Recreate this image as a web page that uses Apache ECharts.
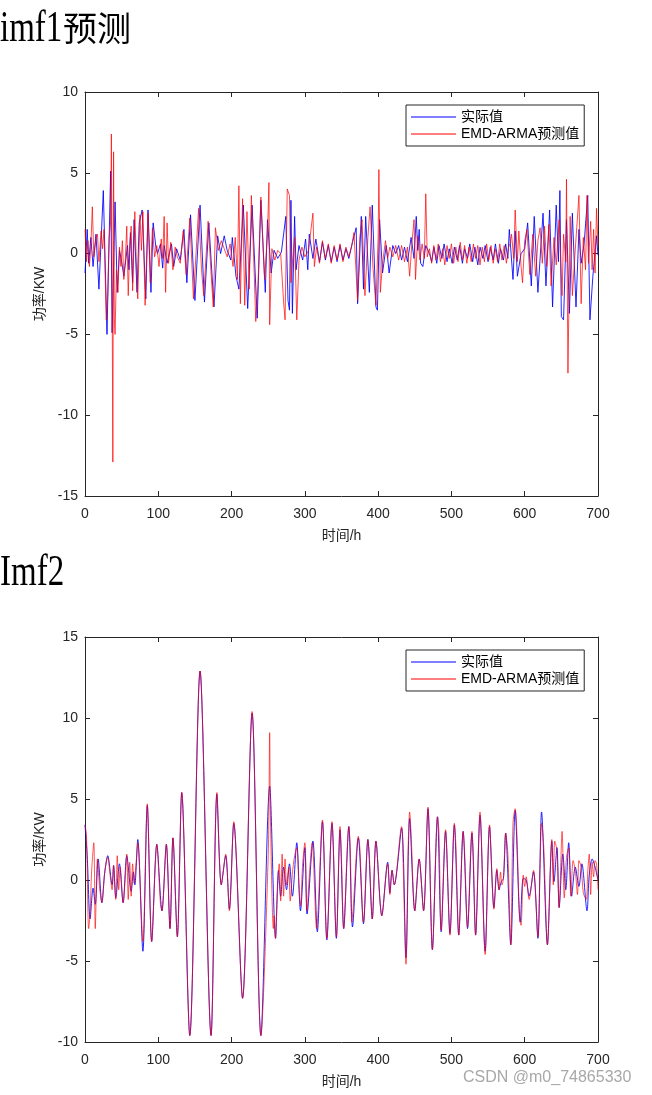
<!DOCTYPE html>
<html>
<head>
<meta charset="utf-8">
<script src="https://cdn.jsdelivr.net/npm/echarts@6/dist/echarts.min.js"></script>
<style>
  html, body { margin: 0; padding: 0; background: #fff; }
  #wrap { position: relative; width: 652px; height: 1095px; overflow: hidden; background: #fff; }
  #chart { position: absolute; left: 0; top: 0; width: 652px; height: 1095px; }
  .lat { position: absolute; font-family: "Liberation Serif", "DejaVu Serif", serif; font-size: 44px; line-height: 44px; color: #000; transform: scaleX(0.75); transform-origin: 0 0; white-space: nowrap; }
  .cjk { position: absolute; font-family: "Noto Sans CJK SC", sans-serif; font-size: 34px; line-height: 34px; color: #000; white-space: nowrap; }
  .wm { position: absolute; font-family: "Liberation Sans", Arial, sans-serif; font-size: 16px; line-height: 16px; color: #a8a8a8; white-space: nowrap; text-shadow: 0 0 2px #fff; }
</style>
</head>
<body>
<div id="wrap">
  <div id="chart"></div>
  <div class="lat" style="left:0px;top:5px;">imf1</div>
  <div class="cjk" style="left:63px;top:10px;">预测</div>
  <div class="lat" style="left:0px;top:549px;">Imf2</div>
  <div class="wm" style="left:463px;top:1069px;">CSDN @m0_74865330</div>
</div>
<script>
// ---------- tick labels ----------
const xTicks = [0, 100, 200, 300, 400, 500, 600, 700];
const imf1YTicks = [-15, -10, -5, 0, 5, 10];
const imf2YTicks = [-10, -5, 0, 5, 10, 15];

// ---------- series names ----------
const seriesNames = ['实际值', 'EMD-ARMA预测值'];

// ---------- imf1: actual (blue) [hour, kW] ----------
const imf1Actual = [
[0,-1.2],[1,-1.2],[3,1.5],[5,-0.6],[8,1.0],[11,-0.8],[15,1.2],[19,-2.2],[25,3.9],[30,-5.0],[35,5.1],[37,-4.9],[41,3.2],[44,-2.4],[47,0.2],[50,-0.5],[53,-1.4],[58,0.5],[60,-1.0],[62,1.3],[65,-1.8],[67,2.1],[71,-2.4],[74,1.9],[78,2.7],[83,-2.8],[86,2.7],[90,-2.4],[93,1.9],[97,0.3],[99,0.0],[103,0.6],[106,-0.9],[108,0.5],[112,-0.6],[118,0.6],[121,-0.8],[125,0.3],[130,-0.4],[135,1.5],[139,-1.8],[144,2.4],[150,-2.9],[157,3.0],[163,-3.0],[169,1.9],[176,-3.3],[181,1.1],[185,0.0],[190,1.1],[194,0.2],[199,-0.4],[201,1.0],[206,-1.4],[210,-2.2],[216,3.0],[222,-3.4],[228,3.0],[235,-4.0],[240,3.3],[246,-2.4],[249,2.1],[254,-1.2],[258,0.2],[263,-0.3],[268,0.1],[274,2.3],[277,-2.9],[279,-3.5],[281,3.3],[283,-3.7],[286,2.3],[288,-1.0],[292,0.5],[297,-0.4],[301,0.9],[304,-1.0],[306,1.2],[311,-0.3],[315,0.9],[320,-0.5],[324,0.7],[328,-0.4],[332,0.5],[336,-0.5],[340,0.4],[344,-0.5],[348,0.5],[352,-0.4],[356,0.3],[360,-0.3],[365,0.7],[370,1.6],[372,-3.1],[377,2.3],[380,-2.2],[383,2.3],[388,-2.4],[392,3.0],[397,-3.3],[399,-3.5],[402,2.1],[406,-1.2],[411,0.5],[413,-0.3],[415,-1.2],[420,0.5],[424,0.0],[428,0.5],[432,-0.4],[436,0.4],[440,-0.5],[445,1.0],[449,-0.3],[452,2.3],[454,0.2],[456,1.5],[458,-0.6],[461,-0.8],[465,0.5],[470,0.0],
[473,-0.5],[476,0.4],[480,-0.6],[483,0.5],[487,-0.3],[490,0.6],[494,-0.5],[497,0.3],[501,-0.6],[504,0.4],[508,-0.4],[511,0.5],[515,-0.6],[518,0.3],[522,-0.3],[525,0.6],[529,-0.5],[532,0.4],[536,-0.7],[539,0.4],[543,-0.3],[546,0.5],[550,-0.5],[553,0.4],[557,-0.4],[560,0.6],[564,-0.6],[567,0.3],[571,-0.4],[574,0.6],[577,-0.3],
[579,1.5],[584,-1.6],[587,1.4],[590,-1.4],[595,0.0],[600,0.3],[604,1.9],[609,-2.0],[613,2.3],[618,-2.4],[625,2.5],[629,-2.0],[634,2.7],[638,-3.3],[643,3.0],[646,-0.5],[648,3.9],[650,-3.9],[653,-4.1],[657,2.1],[661,-3.7],[665,2.5],[670,-3.3],[674,1.5],[677,-0.6],[681,0.6],[686,3.6],[689,-4.1],[693,-1.4],[698,1.1],[700,-0.1]
];

// ---------- imf1: EMD-ARMA prediction (red) ----------
const imf1Pred = [
[0,1.5],[2,-0.5],[4,0.8],[6,-0.8],[8,0.5],[10,2.9],[12,-0.2],[15,1.0],[17,1.2],[19,-0.5],[22,1.4],[24,0.3],[26,1.5],[29,-4.1],[31,-2.5],[33,1.0],[35,2.0],[36,7.4],[37,-2.0],[38,-12.9],[39,6.3],[40,-4.0],[41,-5.0],[43,-1.0],[45,-2.4],[47,0.4],[49,-0.8],[51,0.8],[53,-1.6],[55,-0.4],[57,1.7],[59,-2.6],[61,0.4],[63,1.7],[65,-2.3],[68,2.6],[70,-0.5],[72,-2.8],[75,2.4],[77,0.2],[79,2.6],[82,-3.2],[86,2.5],[89,-1.8],[92,1.6],[95,-0.2],[98,0.5],[101,-0.8],[104,0.9],[106,-0.3],[108,2.3],[110,-2.4],[112,1.9],[114,-0.6],[117,0.7],[120,-1.0],[123,0.4],[126,-0.2],[130,-0.6],[134,1.4],[138,-1.3],[143,2.2],[148,-2.8],[155,2.8],[159,-1.0],[162,-2.6],[168,2.0],[172,-1.2],[175,-3.3],[178,1.6],[182,0.2],[186,0.8],[190,0.3],[194,-0.2],[198,0.6],[202,-0.8],[205,1.0],[208,-1.6],[210,4.2],[212,-3.1],[215,3.4],[218,-3.2],[221,2.6],[224,-2.2],[227,3.6],[230,0.0],[233,-4.2],[236,-2.0],[240,3.5],[245,-1.6],[249,1.2],[251,4.4],[252,-4.4],[255,0.3],[259,-0.4],[263,0.2],[267,0.0],[271,-3.0],[273,-4.1],[276,4.0],[279,3.6],[281,-1.8],[283,-0.6],[286,1.0],[289,-4.1],[292,-0.4],[296,0.4],[300,-0.2],[305,0.2],[311,2.5],[313,-0.8],[316,0.4],[320,-0.6],[324,0.8],[328,-0.3],[332,0.6],[336,-0.6],[340,0.5],[344,-0.4],[348,0.6],[352,-0.5],[356,0.4],[360,-0.2],[364,0.5],[367,1.3],[372,-2.9],[375,1.0],[378,2.1],[382,-2.6],[386,1.0],[389,2.9],[393,-0.9],[397,-3.2],[400,1.0],[401,5.2],[403,-2.4],[406,-0.6],[410,0.8],[413,-0.3],[416,0.4],[420,-0.2],[424,0.5],[428,-0.4],[432,0.5],[436,-0.5],[440,0.4],[443,-1.4],[446,0.6],[449,2.1],[451,-1.6],[454,1.1],[457,-0.4],[460,0.6],[463,-0.3],[465,3.7],[467,-0.2],
[470,0.3],[473,-0.6],[476,0.5],[479,-0.4],[482,0.6],[485,-0.5],[488,0.3],[491,-0.7],[494,0.5],[497,-0.3],[500,0.6],[503,-0.6],[506,0.4],[509,-0.5],[512,0.7],[515,-0.4],[518,0.5],[521,-0.6],[524,0.4],[527,-0.5],[530,0.6],[533,-0.3],[536,0.5],[539,-0.7],[542,0.4],[545,-0.5],[548,0.6],[551,-0.4],[554,0.5],[557,-0.6],[560,0.3],[563,-0.5],[566,0.6],[569,-0.4],[572,0.5],[575,-0.6],[578,0.4],
[580,0.6],[582,1.2],[585,-0.3],[587,2.7],[590,-0.5],[592,1.4],[595,-0.8],[597,-1.8],[600,0.8],[603,1.5],[607,-1.3],[611,1.2],[615,-1.4],[618,0.8],[621,1.6],[624,-0.6],[627,1.7],[630,-0.8],[633,1.8],[636,-2.0],[640,1.0],[643,-0.7],[647,2.1],[651,-2.6],[653,1.2],[656,-0.5],[657,4.6],[659,-7.4],[662,2.3],[665,-2.6],[668,-0.4],[671,1.6],[674,3.6],[677,-3.1],[680,1.0],[683,-1.0],[685,3.6],[687,-0.6],[690,2.0],[692,-1.0],[694,1.5],[696,-1.2],[698,2.8],[700,0.5]
];

// ---------- imf2: actual (blue) ----------
const imf2Actual = [
[0,3.4],[3,1.5],[7,-2.4],[11,-0.5],[14,-1.5],[18,1.3],[23,-1.4],[27,0.5],[31,1.5],[37,-0.3],[39,0.9],[42,-1.1],[47,1.0],[52,-1.4],[57,1.5],[63,-0.7],[66,0.5],[68,-0.3],[72,2.5],[79,-4.4],[85,4.6],[91,-3.8],[98,2.2],[105,-1.9],[111,2.2],[116,-3.0],[120,2.6],[126,-3.5],[132,5.4],[143,-9.6],[157,12.9],[172,-9.6],[180,5.3],[186,-0.3],[192,1.5],[197,-1.8],[203,3.5],[215,-7.3],[228,10.3],[240,-9.6],[252,5.8],[260,-3.6],[264,0.6],[267,-1.0],[271,0.8],[275,-0.6],[279,1.0],[283,-1.0],[289,2.3],[294,-1.9],[300,2.0],[303,-2.1],[311,2.4],[317,-3.2],[324,3.6],[330,-3.7],[337,3.5],[343,-3.6],[348,3.1],[353,-3.0],[360,3.3],[365,-2.9],[373,2.6],[380,-2.7],[386,2.5],[392,-2.4],[397,2.4],[405,-2.2],[413,1.1],[416,-0.8],[419,0.6],[422,-0.3],[432,3.2],[438,-4.8],[443,3.8],[450,-1.9],[456,1.3],[462,-1.9],[468,4.4],[474,-4.3],[481,3.9],[486,-3.2],[492,3.0],[498,-3.3],[504,3.4],[510,-3.4],[516,3.0],[522,-3.0],[528,2.9],[533,-3.4],[539,4.0],[546,-4.4],[552,3.3],[558,-1.7],[562,0.6],[565,-0.6],[568,-0.1],[571,0.1],[574,2.9],[581,-4.0],[587,4.3],[594,-2.6],[598,0.1],[602,0.0],[606,-1.0],[612,0.5],[618,-3.6],[623,4.2],[631,-4.0],[637,2.4],[640,-0.1],[644,2.0],[647,-1.7],[652,1.6],[656,-0.6],[660,2.3],[664,-1.0],[669,0.8],[674,-0.4],[678,1.0],[685,-1.9],[688,0.3],[692,1.3],[696,0.8],[700,0.0]
];

// ---------- imf2: EMD-ARMA prediction (red) ----------
const imf2Pred = [
[0,3.4],[2,2.8],[5,-3.0],[7,-2.0],[9,0.5],[12,2.3],[14,-3.0],[17,1.3],[20,-0.5],[23,-1.4],[27,0.5],[31,1.4],[34,0.4],[37,-0.6],[39,0.9],[42,-1.2],[44,1.5],[46,-0.6],[48,0.8],[52,-1.4],[55,0.2],[57,1.6],[59,-1.2],[61,1.1],[63,-1.0],[65,1.0],[67,-0.2],[70,1.2],[72,2.3],[79,-3.8],[85,4.7],[91,-3.8],[98,2.2],[103,-1.5],[105,-1.9],[111,2.2],[116,-3.0],[120,2.6],[126,-3.5],[132,5.4],[143,-9.6],[157,12.9],[172,-9.6],[180,5.4],[186,-0.3],[192,1.6],[197,-1.9],[203,3.6],[215,-7.3],[228,10.4],[240,-9.6],[250,1.5],[252,9.1],[253,4.0],[257,-3.0],[258,-2.2],[260,-3.6],[261,-2.5],[263,-0.3],[265,1.0],[267,-1.3],[269,1.6],[271,-1.0],[273,1.3],[275,-0.3],[278,0.8],[280,-1.3],[283,0.4],[286,1.5],[289,2.0],[292,-0.5],[294,-1.6],[297,1.0],[300,2.3],[303,-1.9],[306,0.2],[310,2.3],[316,-3.0],[324,3.7],[330,-3.6],[337,3.6],[343,-3.5],[348,3.3],[350,1.3],[353,-3.0],[360,3.3],[362,2.0],[364,-2.6],[366,-1.7],[373,2.7],[375,2.0],[380,-2.6],[386,2.5],[388,1.5],[392,-2.4],[397,2.4],[405,-2.2],[413,1.0],[416,-0.9],[419,0.6],[422,-0.3],[432,3.3],[434,1.2],[438,-5.2],[441,2.0],[443,4.2],[445,2.8],[450,-1.9],[456,1.3],[462,-1.9],[468,4.5],[474,-4.3],[481,3.9],[483,2.9],[486,-3.1],[492,3.1],[498,-3.4],[504,3.5],[506,2.2],[510,-3.4],[516,3.0],[518,1.7],[522,-2.9],[528,3.0],[530,1.3],[533,-3.4],[539,4.2],[546,-4.6],[552,3.4],[558,-1.8],[562,0.7],[565,-0.6],[567,0.5],[569,-0.3],[571,0.1],[574,2.9],[577,1.6],[581,-4.0],[584,3.5],[587,4.4],[589,3.2],[593,-2.4],[595,-2.8],[598,0.3],[600,-0.4],[602,0.2],[606,-1.2],[612,0.6],[618,-3.5],[621,1.0],[623,3.5],[626,2.0],[631,-4.0],[637,2.5],[639,-0.3],[641,2.4],[644,1.8],[647,-1.7],[651,3.0],[654,-1.1],[657,1.4],[660,2.0],[663,-1.0],[666,1.2],[669,0.6],[672,-0.9],[674,1.2],[677,0.8],[680,-0.8],[684,-1.2],[686,0.5],[688,1.6],[690,-0.9],[692,1.1],[694,0.2],[696,1.2],[698,1.0],[700,-0.6]
];

// ---------- build chart ----------
const axisColor = '#262626';
const tickFont = '"Liberation Sans Narrow", "Liberation Sans", Arial, sans-serif';
const labelFont = '"Liberation Sans", "Noto Sans CJK SC", sans-serif';

function rangeOf(ticks) {
  return { min: ticks[0], max: ticks[ticks.length - 1], interval: ticks[1] - ticks[0] };
}

function xAxes(gridIndex) {
  const r = rangeOf(xTicks);
  const base = {
    type: 'value', gridIndex, min: r.min, max: r.max, interval: r.interval,
    splitLine: { show: false },
    axisLine: { show: true, onZero: false, lineStyle: { color: axisColor, width: 1 } },
    axisTick: { show: true, inside: true, length: 5, lineStyle: { color: axisColor } }
  };
  return [
    Object.assign({}, base, {
      position: 'bottom',
      name: '时间/h', nameLocation: 'middle', nameGap: 33,
      nameTextStyle: { fontFamily: labelFont, fontSize: 14, color: axisColor },
      axisLabel: { show: true, margin: 11, fontFamily: tickFont, fontSize: 14, color: axisColor }
    }),
    Object.assign({}, base, { position: 'top', axisLabel: { show: false } })
  ];
}

function yAxes(gridIndex, ticks) {
  const r = rangeOf(ticks);
  const base = {
    type: 'value', gridIndex, min: r.min, max: r.max, interval: r.interval,
    splitLine: { show: false },
    axisLine: { show: true, onZero: false, lineStyle: { color: axisColor, width: 1 } },
    axisTick: { show: true, inside: true, length: 5, lineStyle: { color: axisColor } }
  };
  return [
    Object.assign({}, base, {
      position: 'left',
      name: '功率/KW', nameLocation: 'middle', nameGap: 33, nameRotate: 90,
      nameTextStyle: { fontFamily: labelFont, fontSize: 14, color: axisColor },
      axisLabel: { show: true, margin: 7, fontFamily: tickFont, fontSize: 14, color: axisColor }
    }),
    Object.assign({}, base, { position: 'right', axisLabel: { show: false } })
  ];
}

function lineSeries(name, data, idx, color, opacity, smooth) {
  return {
    name, type: 'line', data,
    xAxisIndex: idx, yAxisIndex: idx,
    showSymbol: false, symbol: 'none', smooth: smooth,
    lineStyle: { color, width: 1, opacity },
    itemStyle: { color },
    clip: true, animation: false
  };
}

function legend(top) {
  return {
    left: 406, top, orient: 'vertical',
    data: seriesNames,
    icon: 'rect', itemWidth: 45, itemHeight: 1, itemGap: 3,
    padding: [5, 5, 5, 5],
    backgroundColor: '#fff', borderColor: axisColor, borderWidth: 1, borderRadius: 0,
    selectedMode: false,
    textStyle: { fontFamily: labelFont, fontSize: 14, color: '#000', padding: [0, 0, 0, 0] }
  };
}

const chart = echarts.init(document.getElementById('chart'), null, { renderer: 'canvas' });
chart.setOption({
  backgroundColor: '#fff',
  animation: false,
  grid: [
    { left: 85, top: 92, width: 513, height: 404 },
    { left: 85, top: 637, width: 513, height: 405 }
  ],
  xAxis: [].concat(xAxes(0), xAxes(1)),
  yAxis: [].concat(yAxes(0, imf1YTicks), yAxes(1, imf2YTicks)),
  legend: [legend(105), legend(650)],
  series: [
    lineSeries(seriesNames[0], imf1Actual, 0, '#0000ff', 0.85, false),
    lineSeries(seriesNames[1], imf1Pred, 0, '#ff0000', 0.7, false),
    lineSeries(seriesNames[0], imf2Actual, 2, '#0000ff', 0.85, 0.3),
    lineSeries(seriesNames[1], imf2Pred, 2, '#ff0000', 0.65, 0.3)
  ]
});
</script>
</body>
</html>
